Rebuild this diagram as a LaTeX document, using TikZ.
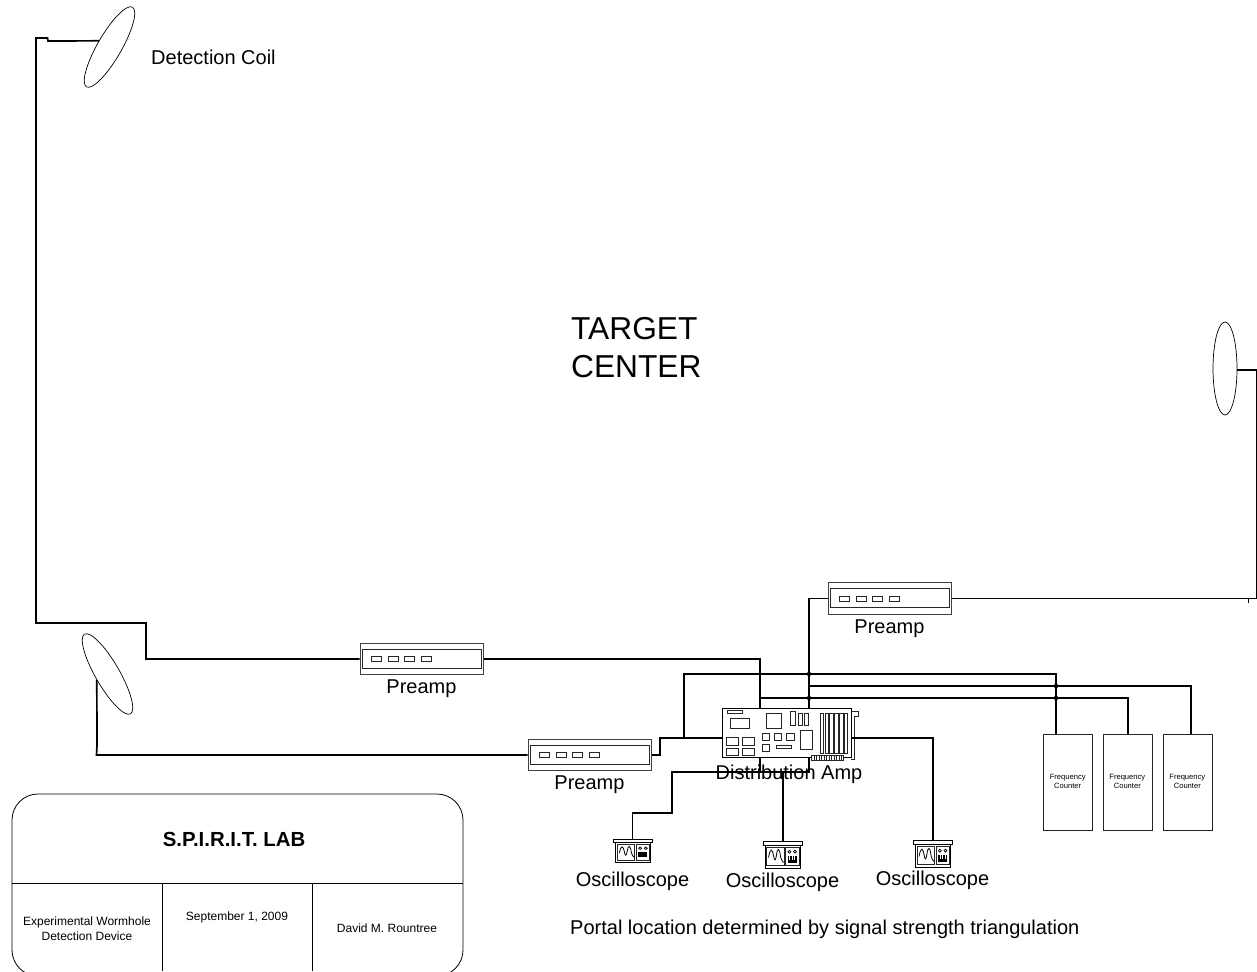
\documentclass[tikz,border=0pt]{standalone}
\usepackage{fontspec}
\setmainfont{Liberation Sans}
\usetikzlibrary{shapes.geometric,calc}
\tikzset{
  wire/.style={draw=black,line width=1.7pt,line join=miter},
  coilshape/.style={ellipse,draw=black,line width=0.7pt,minimum width=92pt,minimum height=24pt,inner sep=0pt},
  preampbox/.style={rectangle,draw=black!75,line width=1pt,minimum width=123pt,minimum height=31.5pt,inner sep=0pt},
  part/.style={draw=black!85,line width=0.8pt},
  fcbox/.style={rectangle,draw=black!85,line width=1pt,minimum width=48.5pt,minimum height=96pt,inner sep=0pt},
  fctext/.style={inner sep=0pt,align=center,font=\fontsize{7.6}{9.7}\selectfont},
  oscbox/.style={rectangle,draw=black,line width=1pt,minimum width=35pt,minimum height=23pt,inner sep=0pt},
  lab/.style={inner sep=0pt,font=\fontsize{20}{24}\selectfont},
  cell/.style={inner sep=0pt,align=center,font=\fontsize{12}{15}\selectfont},
  dot/.style={circle,fill=black,inner sep=0pt,minimum size=4.5pt},
}
\newcommand{\preampdetail}[1]{%
  \begin{scope}[shift={(#1.center)}]
    \draw[part,line width=1pt] (-59.5,-10) rectangle (59.5,9);
    \foreach \a in {-50.5,-33.5,-17.5,-0.5}{\draw[part] (\a,-2.5) rectangle ++(10.5,5);}
  \end{scope}}
\newcommand{\oscdetail}[2]{%
  \begin{scope}[shift={(#1.center)},yscale=#2]
    \draw[line width=1pt,fill=white] (-19.5,-15) rectangle (19.5,-11.5);
    \draw[part] (-16,-9.5) rectangle (1.5,9);
    \draw[line width=0.8pt] (-14,1) .. controls (-12,-10) and (-10,-7) .. (-9,-1) .. controls (-8,5) and (-7,5) .. (-6,-2) .. controls (-5,-9) and (-3,-9) .. (-2,0) .. controls (-1,4) and (0,5) .. (1,6);
    \draw[part] (3,-9.5) rectangle (16.5,9);
    \draw[line width=0.7pt] (6.8,-4.8) circle (1.5) (12.5,-4.8) circle (1.5);
    \fill[black] (5,-0.5) rectangle (14,6);
  \end{scope}}
\newcommand{\oscbars}[1]{%
  \begin{scope}[shift={(#1.center)}]
    \draw[white,line width=0.6pt] (7.2,-0.5) -- (7.2,3) (9.5,-0.5) -- (9.5,3) (11.8,-0.5) -- (11.8,3);
  \end{scope}}
\begin{document}
\begin{tikzpicture}[x=1pt,y=-1pt]
\path[use as bounding box,fill=white] (0,0) rectangle (1257,971);
% coils
\node[coilshape,rotate=60] (coilA) at (109.5,47) {};
\node[coilshape,rotate=-60] (coilB) at (107.5,674) {};
\node[coilshape,rotate=90,minimum width=93pt] (coilC) at (1225,368.5) {};
% preamps
\node[preampbox] (preA) at (421.5,659) {};
\node[preampbox] (preB) at (589.5,755) {};
\node[preampbox] (preC) at (889.5,598.5) {};
\preampdetail{preA}\preampdetail{preB}\preampdetail{preC}
% distribution board
\node[rectangle,draw=black,line width=1pt,minimum width=129pt,minimum height=49pt,inner sep=0pt] (board) at (786.5,732.5) {};
\begin{scope}[part]
  \draw (727.3,710.7) rectangle (742.7,713.3);
  \draw (730.3,718.3) rectangle (749.3,728.3);
  \draw (766.7,713.3) rectangle (781.7,728.3);
  \draw (790.7,711.7) rectangle (795.7,725.3);
  \draw (798.3,713.3) rectangle (802.3,725.3);
  \draw (804,713.3) rectangle (808.3,725.3);
  \foreach \a in {820,824.9,829.8,834.7,839.6,844.5}{\draw (\a,713.3) rectangle ++(3.3,40);}
  \draw (762.3,733.3) rectangle (769,740.3);
  \draw (774.7,733.3) rectangle (781.7,740.3);
  \draw (786.7,733.3) rectangle (794.3,740.3);
  \draw (762.3,744) rectangle (769.3,751.7);
  \draw (776.7,745.7) rectangle (791.7,748);
  \draw (800,730.7) rectangle (812.3,749.3);
  \draw (726.7,737.7) rectangle (738.7,745.3);
  \draw (742.7,737.7) rectangle (754.7,745.3);
  \draw (726.7,748) rectangle (738.7,755);
  \draw (742.7,748) rectangle (754.7,755);
  \draw[fill=white] (811.7,755) rectangle (843.3,760);
  \foreach \a in {814,816.5,...,842}{\draw[line width=0.6pt] (\a,755.5) -- (\a,759.5);}
  \draw (851,711.7) -- (858.3,711.7) -- (858.3,716.7) -- (854,716.7) -- (854,759.5) -- (851,759.5);
\end{scope}
% frequency counters
\node[fcbox] (fcA) at (1067.8,782) {};
\node[fcbox] (fcB) at (1127.8,782) {};
\node[fcbox] (fcC) at (1188,782) {};
\node[fctext] (fcAt) at (1067.7,781.5) {Frequency\\Counter};
\node[fctext] (fcBt) at (1127.3,781.5) {Frequency\\Counter};
\node[fctext] (fcCt) at (1187.3,781.5) {Frequency\\Counter};
% oscilloscopes
\node[oscbox,minimum height=19.5pt] (oscA) at (633.3,852.3) {};
\node[oscbox] (oscB) at (782.5,856.5) {};
\node[oscbox] (oscC) at (933,855.5) {};
\oscdetail{oscA}{0.85}\oscdetail{oscB}{1}\oscdetail{oscC}{1}
\oscbars{oscB}\oscbars{oscC}
% junctions
\coordinate (jA) at (760,674);
\coordinate (jB) at (809,674);
\coordinate (jC) at (809,698);
\coordinate (jD) at (1056,686);
\coordinate (jE) at (1056,698);
\coordinate (jF) at (684,738);
\coordinate (jG) at (672,772);
\coordinate (jH) at (809,772);
\coordinate (jI) at (760,698);
\coordinate (jJ) at (809,686);
\coordinate (jK) at (760,772);
\coordinate (jL) at (783,772);
% wires
\draw[wire] (coilA.north) -- (48,41) -- (47.5,38) -- (36,38) -- (36,623) -- (146,623) -- (146,659) -- (preA.west);
\draw[wire] (coilB.south) -- (97,745) -- (96.5,755) -- (preB.west);
\draw[wire] (preA.east) -- (760,659) -- (jA) -- (jA |- board.north);
\draw[wire] (preB.east) -- (660,755) -- (660,738) -- (board.west |- jF);
\draw[wire] (jF) -- (684,674) -- (jA) -- (jB) -- (1056,674) -- (jD) -- (jE |- fcA.north);
\draw[wire] (preC.west) -- (809,598.5) -- (jB) -- (jC) -- (jC |- board.north);
\draw[wire] (jJ) -- (1191,686) -- (1191,734);
\draw[wire] (jI) -- (jC) -- (jE) -- (1128,698) -- (1128,734);
\draw[wire] (preC.east) -- (1256.5,598.5) -- (1256.5,370) -- ([yshift=-1.5pt]coilC.south);
\draw[wire,line width=1pt] (1248,598.5) -- (1248,602.5);
\draw[wire] (board.east |- jF) -- (933,738) -- ([yshift=3.5pt]oscC.north);
\draw[wire] (jA |- board.south) -- (jK);
\draw[wire] (jC |- board.south) -- (jH) -- (jG) -- (672,813) -- (632.5,813) -- (632.5,839);
\draw[wire] (jL) -- ([yshift=3.5pt]jL |- oscB.north);
\foreach \j in {jB,jC,jD,jE}{\node[dot] at (\j) {};}
% labels
\node[lab,anchor=west] (tCoil) at (151,57) {Detection Coil};
\node[lab] (tPreA) at (421.5,689) {Preamp};
\node[lab] (tPreB) at (589.5,785) {Preamp};
\node[lab] (tPreC) at (889.5,628.5) {Preamp};
\node[lab] (tBoard) at (789,774.5) {Distribution Amp};
\node[lab] (tOscA) at (632.5,881.5) {Oscilloscope};
\node[lab] (tOscB) at (782.5,882.5) {Oscilloscope};
\node[lab] (tOscC) at (932.5,880) {Oscilloscope};
\node[lab,anchor=west] (tPortal) at (570,929.5) {Portal location determined by signal strength triangulation};
\node[inner sep=0pt,align=left,anchor=west,font=\fontsize{31.7}{38}\selectfont] (tTarget) at (571,348) {TARGET\\CENTER};
% title block
\draw[line width=0.8pt,rounded corners=26pt] (12,794) rectangle (463,976);
\draw[line width=0.8pt] (12,883.5) -- (463,883.5) (162.5,883.5) -- (162.5,971) (312.5,883.5) -- (312.5,971);
\node[inner sep=0pt,font=\bfseries\fontsize{20.4}{24}\selectfont] (tLab) at (234,839) {S.P.I.R.I.T. LAB};
\node[cell] (tExp) at (87,928.5) {Experimental Wormhole\\Detection Device};
\node[cell] (tDate) at (237,917) {September 1, 2009};
\node[cell] (tName) at (387,928) {David M. Rountree};
\end{tikzpicture}
\end{document}
